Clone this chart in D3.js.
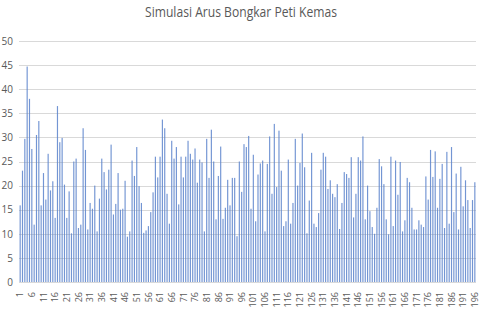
<!DOCTYPE html>
<html>
<head>
<meta charset="utf-8">
<script src="https://cdn.jsdelivr.net/npm/d3@7"></script>
<style>
  body { margin: 0; background: #fff; }
  svg { display: block; }
  text { font-family: "Open Sans", "Noto Sans", sans-serif; fill: #595959; }
</style>
</head>
<body>
<svg id="chart" width="480" height="317"></svg>
<script>
const title = "Simulasi Arus Bongkar Peti Kemas";

// values, one per simulation step
const values = [
    15.9, 23.1, 29.7, 44.7, 38.0, 27.6, 11.9, 30.5, 33.4, 15.9,
    22.6, 17.1, 26.6, 19.0, 20.9, 13.3, 36.5, 29.0, 29.9, 20.2,
    13.3, 18.8, 10.1, 25.0, 25.6, 11.2, 11.9, 31.9, 27.4, 10.9,
    16.4, 15.2, 20.0, 10.5, 17.3, 25.6, 22.8, 19.2, 23.3, 28.5,
    14.0, 16.2, 22.6, 15.0, 15.2, 21.0, 9.4, 10.5, 25.2, 22.0,
    28.0, 19.9, 16.4, 10.2, 10.7, 11.6, 14.5, 18.6, 26.0, 21.7,
    26.0, 33.7, 31.9, 18.3, 12.1, 29.3, 25.6, 28.0, 16.1, 26.0,
    21.7, 26.0, 29.3, 26.6, 25.4, 27.7, 20.6, 25.4, 24.8, 10.5,
    29.7, 21.6, 31.6, 25.0, 13.0, 22.0, 28.1, 13.1, 15.4, 21.2,
    15.9, 21.6, 21.6, 9.5, 25.0, 18.7, 28.6, 28.0, 30.3, 15.2,
    26.4, 12.6, 22.3, 24.6, 25.2, 10.5, 24.5, 30.2, 18.3, 32.8,
    19.7, 31.4, 23.1, 11.6, 12.6, 25.4, 12.1, 16.4, 29.7, 20.0,
    24.7, 30.8, 23.8, 10.1, 16.9, 26.8, 12.1, 11.4, 14.3, 23.3,
    26.8, 26.0, 19.3, 21.1, 18.3, 17.6, 20.3, 11.0, 16.4, 22.8,
    22.4, 21.6, 25.9, 13.4, 18.3, 25.9, 25.2, 30.2, 13.0, 20.0,
    14.7, 11.4, 10.0, 15.4, 25.5, 24.0, 20.3, 13.0, 9.9, 26.0,
    11.6, 25.2, 18.1, 24.9, 10.5, 12.8, 21.6, 20.7, 15.4, 10.9,
    10.9, 12.8, 11.9, 11.4, 21.9, 17.1, 27.4, 21.8, 27.1, 15.4,
    21.4, 24.5, 11.2, 27.0, 12.1, 28.0, 14.5, 22.5, 10.9, 23.9,
    15.7, 21.1, 17.0, 11.2, 17.0, 20.7
];
const categories = values.map((d, i) => i + 1);
const xTickLabels = categories.filter(d => (d - 1) % 5 === 0);
const yTicks = [0, 5, 10, 15, 20, 25, 30, 35, 40, 45, 50];

const svg = d3.select("#chart");
const plot = { left: 19, right: 476, top: 41, bottom: 282 };

const x = d3.scaleBand()
    .domain(categories)
    .range([plot.left, plot.right])
    .paddingInner(0.5)
    .paddingOuter(0.25);

const y = d3.scaleLinear()
    .domain([0, 50])
    .range([plot.bottom, plot.top]);

svg.append("text")
    .attr("x", 241)
    .attr("y", 17)
    .attr("text-anchor", "middle")
    .attr("font-size", 14)
    .attr("textLength", 192)
    .attr("lengthAdjust", "spacingAndGlyphs")
    .text(title);

// gridlines
svg.append("g")
    .selectAll("line")
    .data(yTicks)
    .join("line")
        .attr("x1", plot.left)
        .attr("x2", plot.right)
        .attr("y1", d => Math.round(y(d)) + 0.5)
        .attr("y2", d => Math.round(y(d)) + 0.5)
        .attr("stroke", "#d9d9d9")
        .attr("stroke-width", 1);

// y axis labels
const yAxis = svg.append("g")
    .attr("transform", `translate(${plot.left - 6},0)`)
    .call(d3.axisLeft(y).tickValues(yTicks).tickSize(0).tickPadding(0))
    .call(g => g.select(".domain").remove());
yAxis.selectAll("text")
    .attr("font-size", 10)
    .attr("fill", "#595959")
    .style("font-family", "'Open Sans', sans-serif");

// bars
svg.append("g")
    .selectAll("rect")
    .data(values)
    .join("rect")
        .attr("x", (d, i) => x(categories[i]))
        .attr("width", x.bandwidth())
        .attr("y", d => y(d))
        .attr("height", d => y(0) - y(d))
        .attr("fill", "#5b83cb")
        .attr("fill-opacity", 0.85);

// x axis labels (rotated)
const xAxis = svg.append("g")
    .attr("transform", `translate(0,${plot.bottom})`)
    .call(d3.axisBottom(x).tickValues(xTickLabels).tickSize(0).tickPadding(0))
    .call(g => g.select(".domain").remove());
xAxis.selectAll("text")
    .attr("font-size", 9)
    .attr("fill", "#595959")
    .style("font-family", "'Open Sans', sans-serif")
    .attr("text-anchor", "end")
    .attr("dy", "0.35em")
    .attr("transform", "translate(0,10) rotate(-90)")
    .attr("x", 0)
    .attr("y", 0);
</script>
</body>
</html>
